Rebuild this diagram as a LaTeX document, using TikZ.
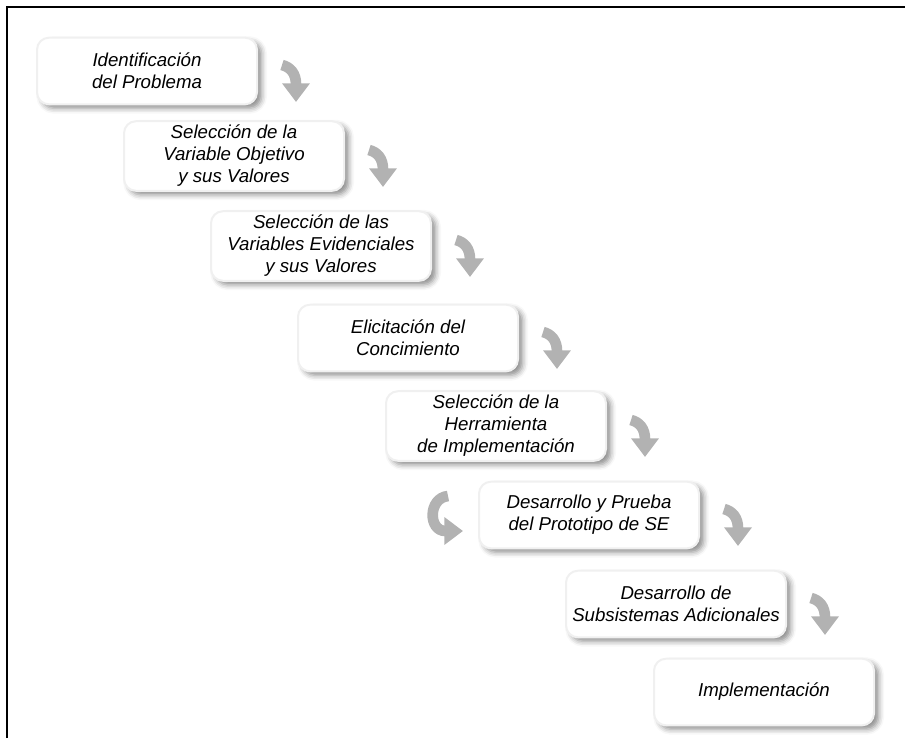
\documentclass[tikz,border=0pt]{standalone}
\usepackage{fontspec}
\setmainfont{Liberation Sans}
\usetikzlibrary{arrows.meta, calc, shadows.blur}

\begin{document}
\begin{tikzpicture}[x=0.75pt, y=-0.75pt, line width=1pt,
    stage/.style={rounded corners=9pt, fill=white, draw=gray!12, line width=1.5pt,
      minimum width=165pt, minimum height=50pt, inner sep=3pt, align=center,
      font=\fontsize{14}{16.5}\selectfont\itshape,
      blur shadow={shadow xshift=3.5pt, shadow yshift=-3pt, shadow blur radius=4pt, shadow opacity=45}},
    turn/.style={draw=gray!60, line width=8pt, -{Triangle[width=20pt, length=14pt]}}]

    \useasboundingbox (0, 0) rectangle (905, 738);

    % draw frame
    \draw[color=black, line width=1.5pt] (7, 738) -- (7, 7) -- (905, 7);

    % draw stages
    \node[stage] (ident) at (147, 71) {Identificación\\del Problema};
    \node[stage] (objetivo) at (234, 156) {Selección de la\\Variable Objetivo\\y sus Valores};
    \node[stage] (evidencia) at (321, 246) {Selección de las\\Variables Evidenciales\\y sus Valores};
    \node[stage] (elicita) at (408, 338) {Elicitación del\\Concimiento};
    \node[stage] (herram) at (496, 426) {Selección de la\\Herramienta\\de Implementación};
    \node[stage] (prototipo) at (589, 515) {Desarrollo y Prueba\\del Prototipo de SE};
    \node[stage] (subsist) at (676, 604) {Desarrollo de\\Subsistemas Adicionales};
    \node[stage] (implem) at (764, 692) {Implementación};

    % draw turning arrows
    \foreach \b in {ident, objetivo, evidencia, elicita, herram, prototipo, subsist}
      \draw[turn] ($(\b.east)+(24,-6)$) .. controls ($(\b.east)+(32,-4)$)
        and ($(\b.east)+(38,2)$) .. ($(\b.east)+(38,31)$);

    % draw loop back arrow
    \draw[turn] ($(prototipo.west)+(-30,-19)$) .. controls ($(prototipo.west)+(-50,-17)$)
      and ($(prototipo.west)+(-50,16)$) .. ($(prototipo.west)+(-15,16)$);

\end{tikzpicture}
\end{document}
